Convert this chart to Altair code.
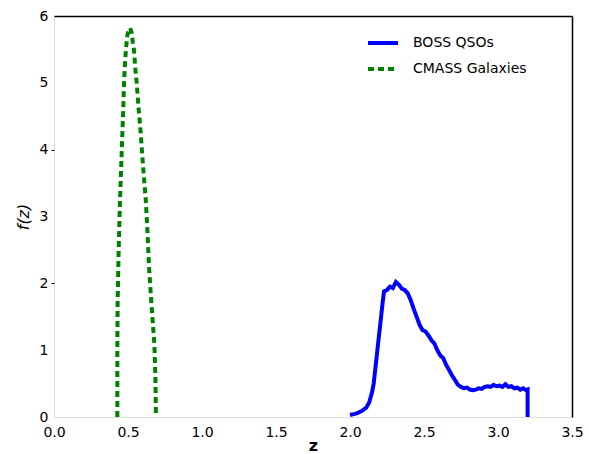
import altair as alt
import pandas as pd

qso_z = [2.00, 2.04, 2.08, 2.11, 2.13, 2.15, 2.16, 2.17, 2.18, 2.19, 2.20, 2.21, 2.22, 2.23, 2.25,
         2.27, 2.29, 2.31, 2.33, 2.35, 2.37, 2.39, 2.41, 2.43, 2.45, 2.47, 2.49, 2.51, 2.53, 2.55,
         2.57, 2.59, 2.61, 2.63, 2.65, 2.67, 2.69, 2.71, 2.73, 2.75, 2.77, 2.79, 2.81, 2.83, 2.85,
         2.87, 2.89, 2.91, 2.93, 2.95, 2.97, 2.99, 3.01, 3.03, 3.05, 3.07, 3.09, 3.11, 3.13, 3.15,
         3.17, 3.19, 3.20, 3.20]
qso_f = [0.03, 0.05, 0.09, 0.14, 0.22, 0.38, 0.5, 0.7, 0.9, 1.1, 1.3, 1.5, 1.7, 1.88, 1.9,
         1.95, 1.93, 2.02, 1.98, 1.92, 1.9, 1.85, 1.75, 1.62, 1.5, 1.38, 1.3, 1.28, 1.22, 1.15,
         1.1, 1.0, 0.92, 0.88, 0.78, 0.7, 0.62, 0.55, 0.48, 0.45, 0.43, 0.44, 0.41, 0.40, 0.41,
         0.43, 0.42, 0.45, 0.46, 0.45, 0.48, 0.46, 0.47, 0.45, 0.49, 0.45, 0.46, 0.43, 0.44, 0.41,
         0.43, 0.40, 0.41, 0.0]

gal_z = [0.428, 0.428, 0.430, 0.437, 0.446, 0.455, 0.462, 0.468, 0.473, 0.480, 0.486, 0.495,
         0.505, 0.514, 0.525, 0.533, 0.540, 0.550, 0.559, 0.572, 0.586, 0.600, 0.620, 0.632,
         0.642, 0.655, 0.668, 0.678, 0.685, 0.689]
gal_f = [0.0, 1.0, 1.75, 2.5, 3.25, 3.8, 4.25, 4.6, 5.0, 5.3, 5.5, 5.7,
         5.8, 5.82, 5.75, 5.6, 5.5, 5.2, 5.0, 4.6, 4.25, 3.8, 3.25, 2.75,
         2.25, 1.8, 1.4, 1.1, 0.6, 0.0]

series_names = ["BOSS QSOs", "CMASS Galaxies"]
x_ticks = [0.0, 0.5, 1.0, 1.5, 2.0, 2.5, 3.0, 3.5]
y_ticks = [0, 1, 2, 3, 4, 5, 6]

rows = []
for i, (z, f) in enumerate(zip(qso_z, qso_f)):
    rows.append({"z": z, "f": f, "series": series_names[0], "i": i})
for i, (z, f) in enumerate(zip(gal_z, gal_f)):
    rows.append({"z": z, "f": f, "series": series_names[1], "i": i})
df = pd.DataFrame(rows)

FONT = "DejaVu Sans"
xscale = alt.Scale(domain=[0, 3.5], nice=False, zero=False)
yscale = alt.Scale(domain=[0, 6], nice=False)

legend = alt.Legend(title=None, orient="none", legendX=312, legendY=10,
                    symbolType="stroke", symbolStrokeWidth=4, symbolSize=900,
                    labelFontSize=14, labelFont=FONT, labelColor="black",
                    rowPadding=1, labelOffset=13)

lines = alt.Chart(df).mark_line(strokeWidth=4, clip=True).encode(
    x=alt.X("z:Q", scale=xscale,
            axis=alt.Axis(values=x_ticks, format=".1f", title="z", domain=False, ticks=False,
                          grid=False, labelFontSize=14, labelPadding=8, labelColor="black",
                          labelFlush=False,
                          titleFontSize=16, titleFontWeight="bold", titleBaseline="bottom",
                          titleY=36, titleColor="black", labelFont=FONT, titleFont=FONT)),
    y=alt.Y("f:Q", scale=yscale,
            axis=alt.Axis(values=y_ticks, format="d", title="f(z)", domain=False,
                          tickSize=3, tickColor={"condition": {"test": "datum.value == 2 || datum.value == 4", "value": "black"}, "value": "transparent"},
                          grid=False, labelFontSize=14, labelPadding=3, labelColor="black",
                          labelFlush=False,
                          titleFontSize=16, titleFontWeight="normal", titleFontStyle="italic",
                          titlePadding=8, titleColor="black", labelFont=FONT, titleFont=FONT)),
    color=alt.Color("series:N", scale=alt.Scale(domain=series_names, range=["#0000ff", "#008000"]),
                    legend=legend),
    strokeDash=alt.StrokeDash("series:N", scale=alt.Scale(domain=series_names, range=[[1, 0], [6, 4]]),
                              legend=legend),
    order="i:Q",
    detail="series:N",
)

frame = alt.Chart(df).mark_point(opacity=0).encode(
    x=alt.X("z:Q", scale=xscale,
            axis=alt.Axis(orient="top", values=x_ticks, labels=False, ticks=False, title=None,
                          domain=True, domainColor="black", domainWidth=1.5, grid=False)),
    y=alt.Y("f:Q", scale=yscale,
            axis=alt.Axis(orient="right", values=y_ticks, labels=False, ticks=False, title=None,
                          domain=True, domainColor="black", domainWidth=1.5, grid=False)),
)

chart = alt.layer(lines, frame).resolve_axis(x="independent", y="independent").properties(
    width=518, height=401,
    autosize=alt.AutoSizeParams(type="none"),
    padding={"left": 54, "top": 16, "right": 17, "bottom": 37},
).configure_view(stroke=None).configure(background="white")

chart.save("out.html", embed_options={"renderer": "svg", "actions": False})
